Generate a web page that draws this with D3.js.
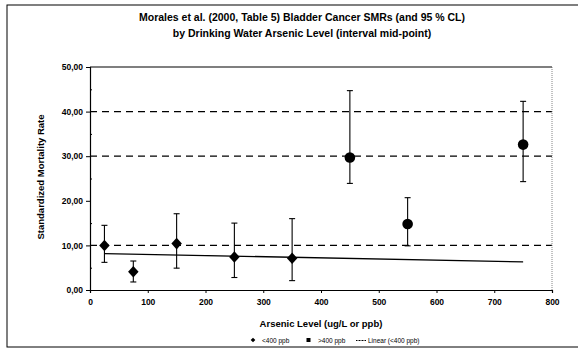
<!DOCTYPE html>
<html lang="en">
  <head>
    <meta charset="UTF-8" />
    <style>
      body { margin: 0; background: #fff; }
      svg { font-family: "Liberation Sans", Arial, sans-serif; }
    </style>
    <title>Bladder Cancer SMRs</title>
  </head>
  <body>
    <script src="https://cdn.jsdelivr.net/npm/d3@7"></script>
    <script>
      // <400 ppb group (interval mid-points)
      const lowX = [25, 75, 150, 250, 350];
      const lowSMR = [10.0, 4.1, 10.4, 7.4, 7.1];
      const lowLo = [6.2, 1.8, 4.9, 2.8, 2.1];
      const lowHi = [14.5, 6.5, 17.1, 15.0, 16.0];
      // >400 ppb group
      const highX = [450, 550, 750];
      const highSMR = [29.7, 14.8, 32.6];
      const highLo = [23.9, 9.9, 24.3];
      const highHi = [44.7, 20.7, 42.3];
      const yTicks = [0, 10, 20, 30, 40, 50];
      const yMinor = [5, 15, 25, 35, 45];
      const xTicks = [0, 100, 200, 300, 400, 500, 600, 700, 800];
      const gridLines = [10, 30, 40];

      const width = 578, height = 350;
      const svg = d3.select("body").append("svg")
        .attr("width", width).attr("height", height);

      // outer chart border
      svg.append("rect")
        .attr("x", 7).attr("y", 5)
        .attr("width", 575).attr("height", 342)
        .attr("fill", "none").attr("stroke", "#000").attr("stroke-width", 1);

      const x = d3.scaleLinear().domain([0, 800]).range([90, 552]);
      const y = d3.scaleLinear().domain([0, 50]).range([290, 67]);

      // title
      const title = svg.append("text")
        .attr("text-anchor", "middle")
        .style("font-size", "10.5px").style("font-weight", "bold");
      title.append("tspan").attr("x", 302).attr("y", 21)
        .text("Morales et al. (2000, Table 5) Bladder Cancer SMRs (and 95 % CL)");
      title.append("tspan").attr("x", 302).attr("y", 37)
        .text("by Drinking Water Arsenic Level (interval mid-point)");

      // dashed gridlines
      svg.selectAll(".grid").data(gridLines).enter().append("line")
        .attr("x1", x(0)).attr("x2", x(800))
        .attr("y1", d => y(d)).attr("y2", d => y(d))
        .attr("stroke", "#000").attr("stroke-width", 1.2)
        .attr("stroke-dasharray", "7,5");

      // plot border top/right
      svg.append("line").attr("x1", x(0)).attr("x2", x(800))
        .attr("y1", y(50)).attr("y2", y(50))
        .attr("stroke", "#000").attr("stroke-width", 1.2);
      svg.append("line").attr("x1", x(800)).attr("x2", x(800))
        .attr("y1", y(50)).attr("y2", y(0))
        .attr("stroke", "#666").attr("stroke-width", 0.8)
        .attr("stroke-dasharray", "1,1");

      // axes
      const xAxis = svg.append("g")
        .attr("transform", "translate(0," + y(0) + ")")
        .call(d3.axisBottom(x).tickValues(xTicks).tickSize(3).tickFormat(d3.format("d")));
      const yAxis = svg.append("g")
        .attr("transform", "translate(" + x(0) + ",0)")
        .call(d3.axisLeft(y).tickValues(yTicks).tickSize(4).tickFormat(d => d.toFixed(2).replace(".", ",")));
      svg.append("g")
        .attr("transform", "translate(" + x(0) + ",0)")
        .call(d3.axisRight(y).tickValues(yMinor).tickSize(2).tickFormat(""))
        .select(".domain").remove();
      [xAxis, yAxis].forEach(g => {
        g.select(".domain").attr("stroke-width", 1.2);
        g.selectAll("text")
          .style("font-size", "8.5px").style("font-weight", "bold")
          .style("font-family", "'Liberation Sans', Arial, sans-serif");
      });
      xAxis.selectAll("text").attr("dy", "1.1em");

      // axis titles
      svg.append("text")
        .attr("transform", "rotate(-90)")
        .attr("x", -177).attr("y", 44)
        .attr("text-anchor", "middle")
        .style("font-size", "9.5px").style("font-weight", "bold")
        .text("Standardized Mortality Rate");
      svg.append("text")
        .attr("x", 321).attr("y", 327)
        .attr("text-anchor", "middle")
        .style("font-size", "9.5px").style("font-weight", "bold")
        .text("Arsenic Level (ug/L or ppb)");

      // linear trend of <400 ppb group, extended to last x
      const mx = d3.mean(lowX), my = d3.mean(lowSMR);
      const slope = d3.sum(lowX, (d, i) => (d - mx) * (lowSMR[i] - my)) /
        d3.sum(lowX, d => (d - mx) * (d - mx));
      const fit = v => my + slope * (v - mx);
      svg.append("line")
        .attr("x1", x(25)).attr("x2", x(750))
        .attr("y1", y(fit(25))).attr("y2", y(fit(750)))
        .attr("stroke", "#000").attr("stroke-width", 1.3);

      const low = lowX.map((d, i) => ({ x: d, v: lowSMR[i], lo: lowLo[i], hi: lowHi[i] }));
      const high = highX.map((d, i) => ({ x: d, v: highSMR[i], lo: highLo[i], hi: highHi[i] }));

      function errorBars(data) {
        const g = svg.append("g").attr("stroke", "#000").attr("stroke-width", 1.1);
        g.selectAll(".v").data(data).enter().append("line")
          .attr("x1", d => x(d.x)).attr("x2", d => x(d.x))
          .attr("y1", d => y(d.lo)).attr("y2", d => y(d.hi));
        g.selectAll(".t").data(data).enter().append("line")
          .attr("x1", d => x(d.x) - 3).attr("x2", d => x(d.x) + 3)
          .attr("y1", d => y(d.hi)).attr("y2", d => y(d.hi));
        g.selectAll(".b").data(data).enter().append("line")
          .attr("x1", d => x(d.x) - 3).attr("x2", d => x(d.x) + 3)
          .attr("y1", d => y(d.lo)).attr("y2", d => y(d.lo));
      }
      errorBars(low);
      errorBars(high);

      svg.selectAll(".diamond").data(low).enter().append("path")
        .attr("d", d3.symbol(d3.symbolDiamond2, 70))
        .attr("transform", d => "translate(" + x(d.x) + "," + y(d.v) + ") scale(1,1.1)")
        .attr("fill", "#000");
      svg.selectAll(".circle").data(high).enter().append("circle")
        .attr("cx", d => x(d.x)).attr("cy", d => y(d.v)).attr("r", 5.3)
        .attr("fill", "#000");

      // legend
      const leg = svg.append("g").style("font-size", "6.5px");
      leg.append("path").attr("d", d3.symbol(d3.symbolDiamond2, 14))
        .attr("transform", "translate(253,340)").attr("fill", "#000");
      leg.append("text").attr("x", 262).attr("y", 342.5).text("<400 ppb");
      leg.append("rect").attr("x", 306.5).attr("y", 338).attr("width", 4).attr("height", 4).attr("fill", "#000");
      leg.append("text").attr("x", 318).attr("y", 342.5).text(">400 ppb");
      leg.append("line").attr("x1", 356).attr("x2", 366).attr("y1", 340.5).attr("y2", 340.5)
        .attr("stroke", "#000").attr("stroke-width", 1).attr("stroke-dasharray", "1,0.5");
      leg.append("text").attr("x", 368).attr("y", 342.5).text("Linear (<400 ppb)");
    </script>
  </body>
</html>
